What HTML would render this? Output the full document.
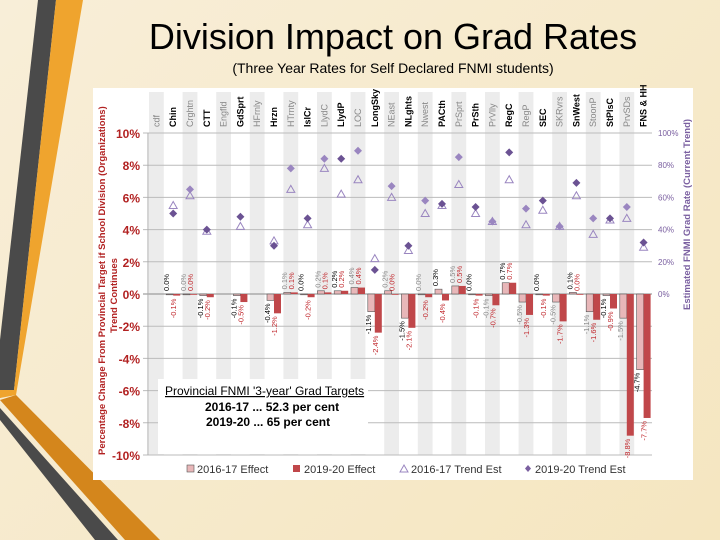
<!DOCTYPE html>
<html><head><meta charset="utf-8"><style>
html,body{margin:0;padding:0;width:720px;height:540px;overflow:hidden}
body{background:linear-gradient(135deg,#f8eed8,#f5e6c0);font-family:"Liberation Sans",sans-serif}
svg{position:absolute;left:0;top:0}
</style></head><body>
<svg id="s" width="720" height="540" xmlns="http://www.w3.org/2000/svg">
<g>
<polygon points="38,0 56,0 14,390 0,398 0,340" fill="#4a4a4a"/>
<polygon points="56,0 83,0 16,395 0,398 0,390 14,390" fill="#efa42e"/>
<polygon points="0,400 16,395 160,540 125,540" fill="#d4861c"/>
<polygon points="0,408 0,420 95,540 118,540" fill="#4a4a4a"/>
</g>
<text x="393" y="49" font-size="36" text-anchor="middle" fill="#000">Division Impact on Grad Rates</text>
<text x="393" y="73" font-size="14" text-anchor="middle" fill="#000">(Three Year Rates for Self Declared FNMI students)</text>
<rect x="93" y="88" width="600" height="392" fill="#fff"/>
<g id="g"></g>
</svg>
<script>
const categories=["cdf","Chin","Crghtn","CTT","Engfld","GdSprt","HFrnly","Hrzn","HTrnty","IslCr","LlydC","LlydP","LOC","LongSky","NEast","NLghts","Nwest","PACth","PrSprt","PrSth","PrVlly","RegC","RegP","SEC","SKRvrs","SnWest","StoonP","StPlsC","PrvSDs","FNS & HH"];
const effect1617=[null,0.0,0.0,-0.1,null,-0.1,null,-0.4,0.1,0.0,0.2,0.2,0.4,-1.1,0.2,-1.5,0.0,0.3,0.5,0.0,-0.1,0.7,-0.5,0.0,-0.5,0.1,-1.1,-0.1,-1.5,-4.7];
const effect1920=[null,-0.1,0.0,-0.2,null,-0.5,null,-1.2,0.1,-0.2,0.1,0.2,0.4,-2.4,0.0,-2.1,-0.2,-0.4,0.5,-0.1,-0.7,0.7,-1.3,-0.1,-1.7,0.0,-1.6,-0.9,-8.8,-7.7];
const trend1617=[null,55,61,39,null,42,null,33,65,43,78,62,71,22,60,27,50,55,68,50,45,71,43,52,42,61,37,46,47,29];
const trend1920=[null,50,65,40,null,48,null,30,78,47,84,84,89,15,67,30,58,56,85,54,45,88,53,58,42,69,47,47,54,32];
const leftTicks=[10,8,6,4,2,0,-2,-4,-6,-8,-10];
const rightTicks=[100,80,60,40,20,0];
const NS="http://www.w3.org/2000/svg",G=document.getElementById('g');
const X0=148,X1=652,Y10=133,Y0=294,bw=(X1-X0)/categories.length;
const y=v=>Y0-(v/10)*(Y0-Y10);
const yr=v=>Y0-(v/100)*(Y0-Y10);
const xc=i=>X0+bw*(i+0.5);
function el(t,a,p){const e=document.createElementNS(NS,t);for(const k in a)e.setAttribute(k,a[k]);(p||G).appendChild(e);return e;}
// stripes
categories.forEach((c,i)=>{if(i%2==0){const r=el('rect',{x:X0+bw*i+1,y:92,width:bw-2,height:y(-10)-92,fill:'#ececec'});

}});
// gridlines & ticks
leftTicks.forEach(v=>{const l=el('line',{x1:X0-5,x2:X1,y1:y(v),y2:y(v),stroke:v==0?'#888':'#bbb','stroke-width':1});


const t=el('text',{x:140,y:y(v)+5,'font-size':12,'font-weight':'bold','text-anchor':'end',fill:'#b22222'});t.textContent=v+'%';

});
el('line',{x1:X0,x2:X0,y1:Y10,y2:y(-10),stroke:'#aaa'});
rightTicks.forEach(v=>{const t=el('text',{x:658,y:yr(v)+3,'font-size':8,fill:'#7a5fa0'});t.textContent=v+'%';

});
// category labels
categories.forEach((c,i)=>{const t=el('text',{transform:`translate(${xc(i)+3},127) rotate(-90)`,'font-size':9,fill:i%2?'#000':'#888','font-weight':i%2?'bold':'normal'});t.textContent=c;

});
// bars
function lab(x,v,yy,col){const pos=v>=0;const t=el('text',{transform:`translate(${x+3},${pos?yy-3:yy+3}) rotate(-90)`,'font-size':7.5,fill:col,'text-anchor':pos?'start':'end'});t.textContent=v.toFixed(1)+'%';

}
categories.forEach((c,i)=>{
 const a=effect1617[i],b=effect1920[i];if(a===null)return;
 const xa=xc(i)-7,xb=xc(i);
 const ra=el('rect',{x:xa,y:Math.min(y(a),Y0),width:7,height:Math.max(Math.abs(y(a)-Y0),0.8),fill:'#e8b7b9',stroke:'#555','stroke-width':0.6});
 
 
 const rb=el('rect',{x:xb,y:Math.min(y(b),Y0),width:7,height:Math.max(Math.abs(y(b)-Y0),0.8),fill:'#c0474a'});
 
 
 lab(xa,a,y(a),i%2?'#000':'#888');
 lab(xb,b,y(b),'#c0262b');
});
// markers
categories.forEach((c,i)=>{
 if(trend1617[i]===null)return;
 const ty=yr(trend1617[i]),cx=xc(i);
 const p=el('polygon',{points:`${cx},${ty-4} ${cx-4},${ty+3} ${cx+4},${ty+3}`,fill:'none',stroke:'#9a86c0','stroke-width':1});
 
 
 const dy=yr(trend1920[i]);
 const d=el('polygon',{points:`${cx},${dy-4} ${cx+4},${dy} ${cx},${dy+4} ${cx-4},${dy}`,fill:i%2?'#6b5293':'#9a86c0'});
 
 
});
</script>
<svg width="720" height="540" style="pointer-events:none" xmlns="http://www.w3.org/2000/svg">
<text transform="translate(105,455) rotate(-90)" font-size="9.5" font-weight="bold" fill="#b22222">Percentage Change From Provincial Target if School Division (Organizations)</text>
<text transform="translate(117,333) rotate(-90)" font-size="9.5" font-weight="bold" fill="#b22222">Trend Continues</text>
<text transform="translate(690,310) rotate(-90)" font-size="9.5" font-weight="bold" fill="#7a5fa0">Estimated FNMI Grad Rate (Current Trend)</text>
<g>
<rect x="158" y="379" width="210" height="75" fill="#fff"/>
<text x="165" y="395" font-size="12" fill="#000" text-decoration="underline">Provincial FNMI '3-year' Grad Targets</text>
<text x="205" y="411" font-size="12" font-weight="bold" fill="#000">2016-17 ... 52.3 per cent</text>
<text x="206" y="426" font-size="12" font-weight="bold" fill="#000">2019-20 ... 65 per cent</text>
</g>
<g font-size="11" fill="#333">
<rect x="187" y="465" width="7" height="7" fill="#e8b7b9" stroke="#555" stroke-width="0.6"/>
<text x="197" y="473">2016-17 Effect</text>
<rect x="293" y="465" width="7" height="7" fill="#c0474a"/>
<text x="304" y="473">2019-20 Effect</text>
<polygon points="404,465 400,472 408,472" fill="none" stroke="#9a86c0"/>
<text x="411" y="473">2016-17 Trend Est</text>
<polygon points="528,465 531,468.5 528,472 525,468.5" fill="#7a5fa0"/>
<text x="535" y="473">2019-20 Trend Est</text>
</g>
</svg>
</body></html>
